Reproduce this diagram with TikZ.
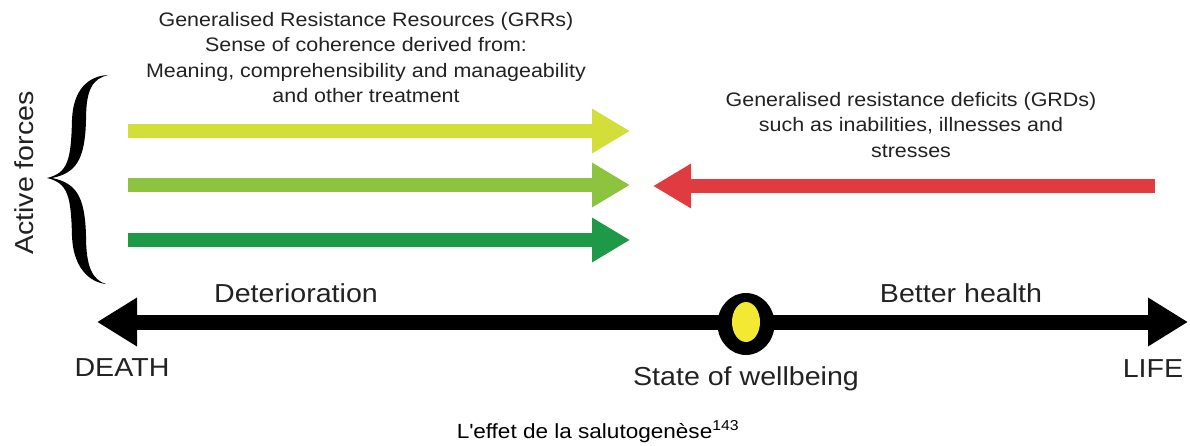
\documentclass[tikz,border=0pt]{standalone}
\usepackage{fontspec}
\setmainfont{Liberation Sans}[FakeStretch=1.1]
\usetikzlibrary{arrows.meta,shapes.geometric}

\definecolor{grrone}{RGB}{212,222,56}
\definecolor{grrtwo}{RGB}{141,196,63}
\definecolor{grrthree}{RGB}{30,153,72}
\definecolor{grdred}{RGB}{224,60,64}
\definecolor{spot}{RGB}{243,232,50}
\definecolor{txt}{RGB}{34,34,34}

\tikzset{
 force/.style={line width=14pt,-{Triangle[length=38pt,width=42pt]}},
 axis/.style={line width=15pt,{Triangle[length=40pt,width=46pt]}-{Triangle[length=40pt,width=46pt]}},
 note/.style={align=center,inner sep=0pt,anchor=north,text=txt,font=\fontsize{19.5}{25.5}\selectfont},
 big/.style={inner sep=0pt,anchor=base,text=txt,font=\fontsize{26}{30}\selectfont}
}

\begin{document}
\begin{tikzpicture}[x=1pt,y=-1pt]
 \useasboundingbox (0,0) rectangle (1190,446);
 % texts above the arrows
 \node[note] (grr) at (366,12) {Generalised Resistance Resources (GRRs)\\Sense of coherence derived from:\\Meaning, comprehensibility and manageability\\and other treatment};
 \node[note] (grd) at (911,92) {Generalised resistance deficits (GRDs)\\such as inabilities, illnesses and\\stresses};
 % the brace and its label
 \fill (108,75) .. controls (88,76) and (73,90) .. (72,120) .. controls (71,160) and (68,173) .. (47,178)
  .. controls (68,183) and (71,196) .. (72,236) .. controls (73,266) and (88,282) .. (106,284)
  .. controls (93,280) and (86,268) .. (86,236) .. controls (85,196) and (76,183) .. (52,178)
  .. controls (76,173) and (85,160) .. (86,120) .. controls (86,88) and (93,79) .. (108,75) -- cycle;
 \node[rotate=90,text=txt,font=\fontsize{26}{30}\selectfont] (active) at (24,173) {Active forces};
 % resources pushing right
 \coordinate (grr1a) at (128,131); \coordinate (grr1b) at (630,131);
 \coordinate (grr2a) at (128,185); \coordinate (grr2b) at (630,185);
 \coordinate (grr3a) at (128,240); \coordinate (grr3b) at (630,240);
 \draw[force,grrone] (grr1a) -- (grr1b);
 \draw[force,grrtwo] (grr2a) -- (grr2b);
 \draw[force,grrthree] (grr3a) -- (grr3b);
 % deficits pushing left
 \coordinate (grda) at (1155,186); \coordinate (grdb) at (653,186);
 \draw[force,grdred] (grda) -- (grdb);
 % the health axis
 \coordinate (death) at (97,322); \coordinate (life) at (1188,322);
 \draw[axis] (death) -- (life);
 \node[ellipse,fill=black,minimum width=57pt,minimum height=62pt,inner sep=0pt] (well) at (746,324) {};
 \node[ellipse,fill=spot,minimum width=28pt,minimum height=40pt,inner sep=0pt] (wellin) at (746,322) {};
 \node[big] (det) at (296,302) {Deterioration};
 \node[big] (better) at (961,302) {Better health};
 \node[big] (deathlbl) at (122,376) {DEATH};
 \node[big] (state) at (746,385) {State of wellbeing};
 \node[big] (lifelbl) at (1153,377) {LIFE};
 % caption
 \node[inner sep=0pt,anchor=base,font=\fontsize{20.5}{24}\selectfont] (cap) at (598,438) {L\textquotesingle effet de la salutogenèse\textsuperscript{143}};
\end{tikzpicture}
\end{document}
